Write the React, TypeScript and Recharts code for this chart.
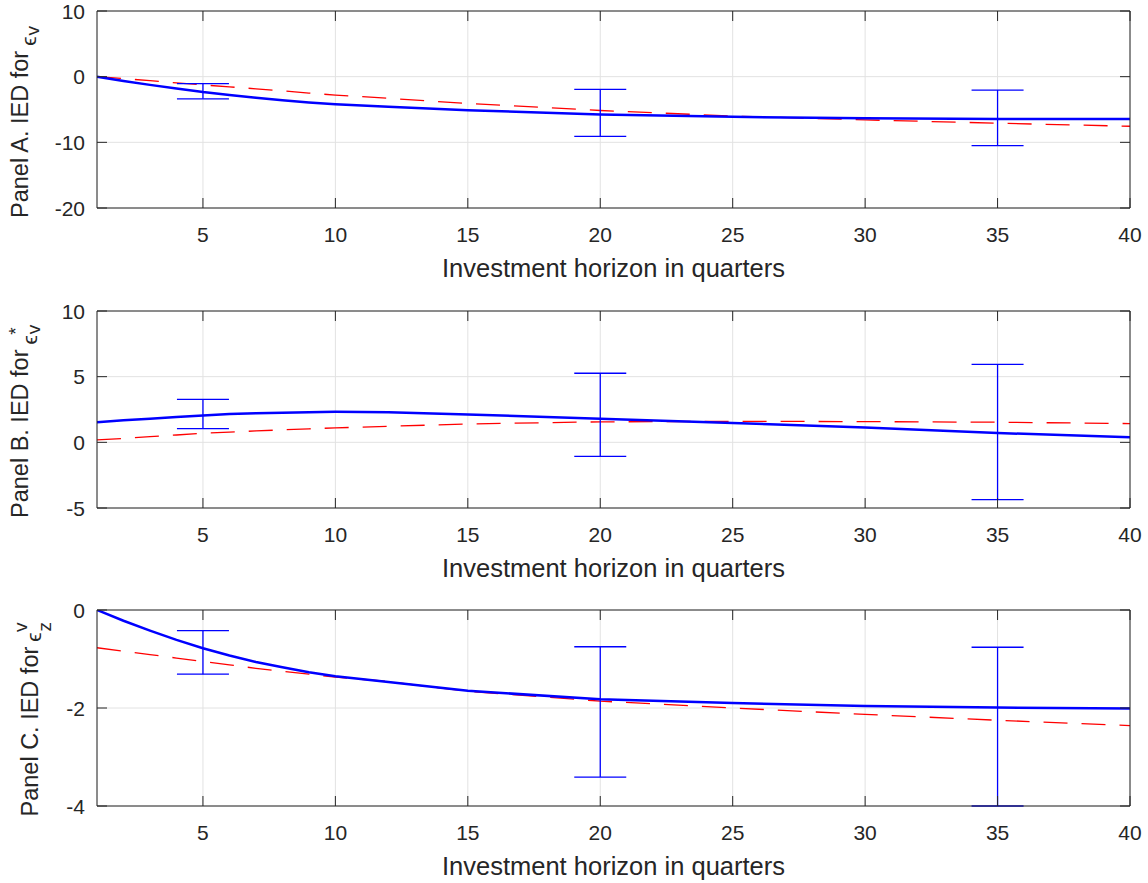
import { ComposedChart, Line, XAxis, YAxis, CartesianGrid, ErrorBar, Label } from 'recharts';

const horizon = [1, 2, 3, 4, 5, 6, 7, 8, 9, 10, 12, 15, 20, 25, 30, 35, 40];
const xTicks = [5, 10, 15, 20, 25, 30, 35, 40];
const errHorizon = [5, 20, 35];

// Panel A
const aSolid = [0, -0.65, -1.25, -1.8, -2.35, -2.8, -3.2, -3.6, -3.92, -4.2, -4.6, -5.1, -5.77, -6.12, -6.33, -6.43, -6.45];
const aDashed = [0, -0.3, -0.6, -0.95, -1.26, -1.55, -1.85, -2.15, -2.5, -2.8, -3.3, -4.08, -5.15, -6.0, -6.58, -7.09, -7.55];
const aLow = [-3.38, -9.08, -10.5];
const aHigh = [-1.06, -1.94, -2.04];
const aTicks = [-20, -10, 0, 10];

// Panel B
const bSolid = [1.53, 1.68, 1.8, 1.93, 2.04, 2.15, 2.22, 2.26, 2.3, 2.32, 2.3, 2.12, 1.79, 1.48, 1.12, 0.71, 0.38];
const bDashed = [0.18, 0.3, 0.43, 0.56, 0.69, 0.78, 0.87, 0.95, 1.03, 1.1, 1.22, 1.4, 1.56, 1.6, 1.58, 1.53, 1.43];
const bLow = [1.05, -1.07, -4.36];
const bHigh = [3.27, 5.26, 5.94];
const bTicks = [-5, 0, 5, 10];

// Panel C
const cSolid = [0, -0.22, -0.42, -0.61, -0.78, -0.93, -1.06, -1.17, -1.27, -1.35, -1.47, -1.65, -1.82, -1.9, -1.96, -1.99, -2.01];
const cDashed = [-0.77, -0.84, -0.91, -0.98, -1.05, -1.12, -1.19, -1.25, -1.31, -1.37, -1.46, -1.66, -1.86, -2.0, -2.13, -2.25, -2.36];
const cLow = [-1.31, -3.41, -4.0];
const cHigh = [-0.42, -0.75, -0.76];
const cTicks = [-4, -2, 0];

const INK = '#262626';
const FONT = 'Liberation Sans, Arial, Helvetica, sans-serif';

const BottomTick = ({ x, y, payload }: any) => (
  <g>
    <line x1={x} x2={x} y1={y} y2={y - 10} stroke={INK} />
    <text x={x} y={y + 34} textAnchor="middle" fontSize={21} fill={INK} fontFamily={FONT}>
      {payload.value}
    </text>
  </g>
);

const TopTick = ({ x, y }: any) => <line x1={x} x2={x} y1={y} y2={y + 10} stroke={INK} />;

const LeftTick = ({ x, y, payload }: any) => (
  <g>
    <line x1={x} x2={x + 10} y1={y} y2={y} stroke={INK} />
    <text x={x - 12} y={y} dy="0.36em" textAnchor="end" fontSize={21} fill={INK} fontFamily={FONT}>
      {payload.value}
    </text>
  </g>
);

const RightTick = ({ x, y }: any) => <line x1={x} x2={x - 10} y1={y} y2={y} stroke={INK} />;

const XLabel = ({ viewBox }: any) => (
  <text
    x={viewBox.x + viewBox.width / 2}
    y={viewBox.y + 69}
    textAnchor="middle"
    fontSize={25.5}
    fill={INK}
    fontFamily={FONT}
  >
    Investment horizon in quarters
  </text>
);

interface LabelSpec {
  title: string;
  base: number; // screen x of the text baseline
  epsDy: number;
  sub: string;
  subDy: number;
  sup?: string;
  supDy?: number;
}

function makeYLabel(s: LabelSpec) {
  return ({ viewBox }: any) => {
    const cy = viewBox.y + viewBox.height / 2;
    return (
      <g transform={`translate(${s.base},${cy}) rotate(-90)`}>
        <text x={-108.5} textAnchor="start" fontSize={23.5} fill={INK} fontFamily={FONT}>
          {s.title}
          <tspan fontSize={21} dx={5} dy={s.epsDy}>ϵ</tspan>
          <tspan fontSize={19} dx={1} dy={s.subDy}>{s.sub}</tspan>
          {s.sup && (
            <tspan fontSize={19} dx={-10} dy={s.supDy}>
              {s.sup}
            </tspan>
          )}
        </text>
      </g>
    );
  };
}

interface PanelProps {
  top: number;
  height: number;
  marginTop: number;
  plotHeight: number;
  solid: number[];
  dashed: number[];
  low: number[];
  high: number[];
  yTicks: number[];
  yLabel: (p: any) => any;
}

function Panel({ top, height, marginTop, plotHeight, solid, dashed, low, high, yTicks, yLabel }: PanelProps) {
  const lineRows = horizon.map((h, i) => ({ h, solid: solid[i], dashed: dashed[i] }));
  const errRows = errHorizon.map((h, i) => ({
    h,
    mid: (low[i] + high[i]) / 2,
    err: (high[i] - low[i]) / 2,
  }));
  const yDomain = [yTicks[0], yTicks[yTicks.length - 1]];

  return (
    <div style={{ position: 'absolute', left: 0, top }}>
      <ComposedChart width={1148} height={height} margin={{ top: marginTop - 1, right: 17, bottom: 0, left: 0 }}>
        <CartesianGrid stroke="#e2e2e2" />
        <XAxis
          dataKey="h"
          type="number"
          domain={[1, 40]}
          ticks={xTicks}
          allowDataOverflow
          height={height - marginTop - plotHeight}
          tickSize={0}
          tickMargin={0}
          tickLine={false}
          tick={(p: any) => <BottomTick {...p} />}
          stroke={INK}
        >
          <Label content={XLabel} />
        </XAxis>
        <XAxis
          xAxisId="top"
          orientation="top"
          dataKey="h"
          type="number"
          domain={[1, 40]}
          ticks={xTicks}
          allowDataOverflow
          height={1}
          tickSize={0}
          tickMargin={0}
          tickLine={false}
          tick={(p: any) => <TopTick {...p} />}
          stroke={INK}
        />
        <YAxis
          type="number"
          domain={yDomain}
          ticks={yTicks}
          allowDataOverflow
          width={97}
          tickSize={0}
          tickMargin={0}
          tickLine={false}
          tick={(p: any) => <LeftTick {...p} />}
          stroke={INK}
        >
          <Label content={yLabel} />
        </YAxis>
        <YAxis
          yAxisId="right"
          orientation="right"
          type="number"
          domain={yDomain}
          ticks={yTicks}
          allowDataOverflow
          width={1}
          tickSize={0}
          tickMargin={0}
          tickLine={false}
          tick={(p: any) => <RightTick {...p} />}
          stroke={INK}
        />
        <Line
          data={lineRows}
          dataKey="dashed"
          type="linear"
          stroke="#ff0000"
          strokeWidth={1.3}
          strokeDasharray="24 14"
          dot={false}
          activeDot={false}
          isAnimationActive={false}
        />
        <Line
          data={lineRows}
          dataKey="solid"
          type="linear"
          stroke="#0000ff"
          strokeWidth={2.5}
          dot={false}
          activeDot={false}
          isAnimationActive={false}
        />
        <Line
          data={errRows}
          dataKey="mid"
          xAxisId="top"
          yAxisId="right"
          stroke="none"
          dot={false}
          activeDot={false}
          isAnimationActive={false}
        >
          <ErrorBar dataKey="err" direction="y" width={26} stroke="#0000ff" strokeWidth={1.3} isAnimationActive={false} />
        </Line>
      </ComposedChart>
    </div>
  );
}

export default function App() {
  return (
    <div
      style={{
        position: 'absolute',
        left: 0,
        top: 0,
        width: 1148,
        height: 883,
        background: '#ffffff',
        fontFamily: FONT,
      }}
    >
      <Panel
        top={0}
        height={300}
        marginTop={11}
        plotHeight={197}
        solid={aSolid}
        dashed={aDashed}
        low={aLow}
        high={aHigh}
        yTicks={aTicks}
        yLabel={makeYLabel({ title: 'Panel A. IED for', base: 28, epsDy: 8, sub: 'v', subDy: 3 })}
      />
      <Panel
        top={300}
        height={300}
        marginTop={11}
        plotHeight={197}
        solid={bSolid}
        dashed={bDashed}
        low={bLow}
        high={bHigh}
        yTicks={bTicks}
        yLabel={makeYLabel({ title: 'Panel B. IED for', base: 28, epsDy: 9, sub: 'v', subDy: 3, sup: '*', supDy: -18 })}
      />
      <Panel
        top={600}
        height={283}
        marginTop={10}
        plotHeight={196}
        solid={cSolid}
        dashed={cDashed}
        low={cLow}
        high={cHigh}
        yTicks={cTicks}
        yLabel={makeYLabel({ title: 'Panel C. IED for', base: 38, epsDy: 3, sub: 'z', subDy: 10, sup: 'v', supDy: -24 })}
      />
    </div>
  );
}
